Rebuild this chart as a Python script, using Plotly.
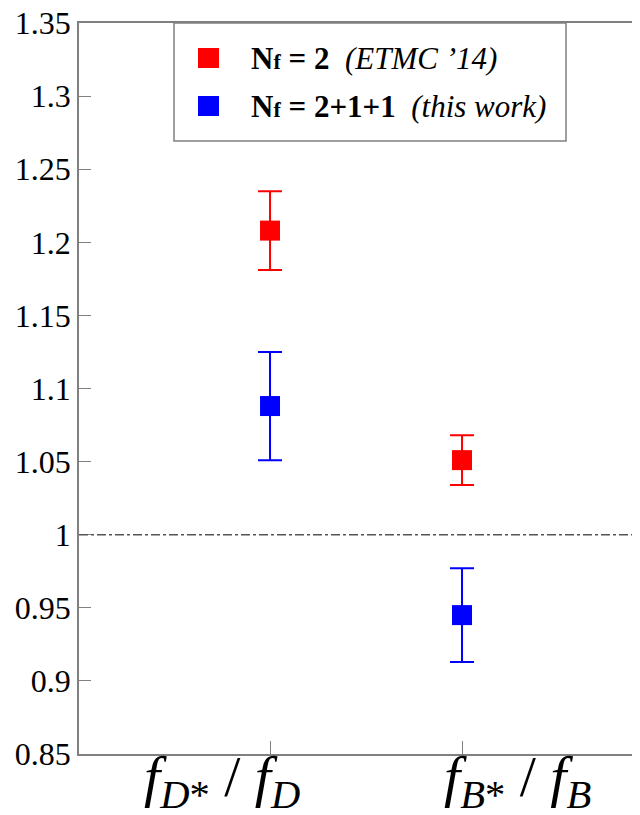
import plotly.graph_objects as go

# ---- data ----
categories = [1, 2]
category_labels = [
    "<i>f</i><sub><i>D</i>*</sub> / <i>f</i><sub><i>D</i></sub>",
    "<i>f</i><sub><i>B</i>*</sub> / <i>f</i><sub><i>B</i></sub>",
]
nf2_values = [1.208, 1.051]
nf2_errors = [0.027, 0.017]
nf211_values = [1.088, 0.945]
nf211_errors = [0.037, 0.032]
y_ticks = [0.85, 0.9, 0.95, 1.0, 1.05, 1.1, 1.15, 1.2, 1.25, 1.3, 1.35]
y_tick_labels = ["0.85", "0.9", "0.95", "1", "1.05", "1.1", "1.15", "1.2", "1.25", "1.3", "1.35"]
legend_labels = [
    "<b>N<span style=\"font-size:22px\">f</span> = 2</b>  <i>(ETMC ’14)</i>",
    "<b>N<span style=\"font-size:22px\">f</span> = 2+1+1</b>  <i>(this work)</i>",
]
RED = "#ff0000"
BLUE = "#0000ff"
AX = "#808080"
FONT = "Liberation Serif"

# page body has an 8px offset
OFF = 8
FIG_W, FIG_H = 640 - OFF, 815 - OFF
L_PX, R_PX, T_PX, B_PX = 79, 640, 23, 754  # plot area in screen pixels

fig = go.Figure()
for vals, errs, col in [(nf2_values, nf2_errors, RED), (nf211_values, nf211_errors, BLUE)]:
    fig.add_trace(go.Scatter(
        x=categories, y=vals, mode="markers",
        marker=dict(symbol="square", size=20, color=col),
        error_y=dict(type="data", array=errs, visible=True, color=col, thickness=2, width=12),
        showlegend=False,
    ))

fig.add_shape(type="line", xref="paper", yref="y", x0=0, x1=1, y0=1.0, y1=1.0,
              line=dict(color="#555555", width=1.5, dash="dashdot"))

W = R_PX - L_PX
H = B_PX - T_PX
def px_x(p):
    return (p - L_PX) / W
def px_y(p):
    return (B_PX - p) / H

fig.add_shape(type="rect", xref="paper", yref="paper",
              x0=px_x(174), x1=px_x(566), y0=px_y(141), y1=1.0,
              line=dict(color=AX, width=1.5), fillcolor="white", layer="above")
for i, (lab, col) in enumerate(zip(legend_labels, [RED, BLUE])):
    cy = [58, 106][i]
    fig.add_shape(type="rect", xref="paper", yref="paper",
                  x0=px_x(198), x1=px_x(219), y0=px_y(cy + 10), y1=px_y(cy - 10),
                  line=dict(width=0), fillcolor=col, layer="above")
    fig.add_annotation(xref="paper", yref="paper", x=px_x(249), y=px_y(cy),
                       xanchor="left", yanchor="middle", text=lab, showarrow=False,
                       font=dict(family=FONT, size=31, color="black"))

# category labels (offset from their ticks as in the original)
label_shifts = [-48, 55]
for cat, lab, sh in zip(categories, category_labels, label_shifts):
    fig.add_annotation(xref="x", yref="paper", x=cat, y=0, xshift=sh, yshift=12,
                       xanchor="center", yanchor="top", text=lab, showarrow=False,
                       font=dict(family=FONT, size=58, color="black"))

fig.update_layout(
    width=FIG_W, height=FIG_H,
    margin=dict(l=L_PX - OFF, r=0, t=T_PX - OFF, b=815 - B_PX, autoexpand=False),
    plot_bgcolor="white", paper_bgcolor="white",
    font=dict(family=FONT, color="black"),
)
fig.update_xaxes(
    range=[0.005, 2.927], tickvals=categories, ticktext=["", ""],
    ticks="inside", ticklen=13, tickcolor=AX, tickwidth=1,
    showline=True, linecolor=AX, linewidth=1.5, mirror=True,
    showgrid=False, zeroline=False, automargin=False,
)
fig.update_yaxes(
    range=[0.85, 1.35], tickvals=y_ticks, ticktext=y_tick_labels,
    ticks="inside", ticklen=12, tickcolor=AX, tickwidth=1,
    showline=True, linecolor=AX, linewidth=1.5,
    showgrid=False, zeroline=False, automargin=False,
    ticklabeloverflow="allow",
    tickfont=dict(family=FONT, size=32, color="black"),
)
fig.write_html("out.html")
